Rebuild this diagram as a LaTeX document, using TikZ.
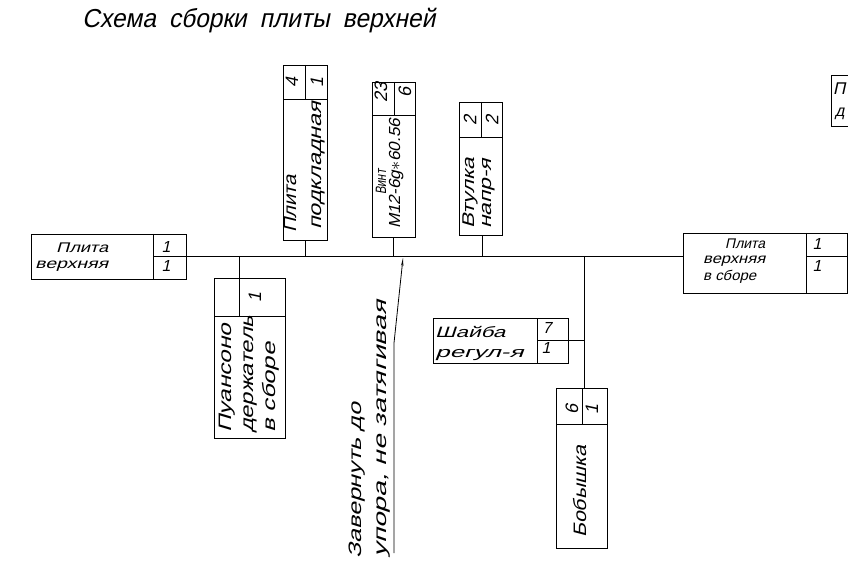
\documentclass[tikz,border=0pt]{standalone}
\usepackage{fontspec}
\usepackage{graphicx}
\newfontfamily\gost[FakeSlant=0.22]{Liberation Sans}
\usetikzlibrary{arrows.meta,calc}
\newcommand\fw[2]{\resizebox{#1pt}{\height}{#2}}
\tikzset{
  ln/.style={line width=0.8pt, draw=black},
  tb/.style={draw=black, line width=0.8pt, inner sep=0pt, shape=rectangle},
  tx/.style={inner sep=0pt, font={\fontsize{#1}{#1}\gost}},
  htx/.style={tx=#1, anchor=base west},
  num/.style={tx=#1, anchor=base},
  rtx/.style={tx=#1, rotate=90, anchor=base west},
  rnum/.style={tx=#1, rotate=90, anchor=center},
}
\begin{document}
\begin{tikzpicture}[x=1pt,y=-1pt]
\clip (0,0) rectangle (848,569);
\fill[white] (0,0) rectangle (848,569);

% title
\node[htx=26] (title) at (82,28) {\fw{353}{Схема\hspace{0.25em} сборки\hspace{0.25em} плиты\hspace{0.25em} верхней}};

% boxes
\node[tb, minimum width=155pt, minimum height=45pt] (lb) at (108.5,256.5) {};
\node[tb, minimum width=164pt, minimum height=60pt] (rb) at (765,263) {};
\node[tb, minimum width=44pt, minimum height=175pt] (pp) at (305,152.5) {};
\node[tb, minimum width=43pt, minimum height=155pt] (vn) at (393.5,159.5) {};
\node[tb, minimum width=43pt, minimum height=133pt] (vt) at (480.5,168.5) {};
\node[tb, minimum width=71pt, minimum height=160pt] (pu) at (249.5,358) {};
\node[tb, minimum width=135pt, minimum height=45pt] (sh) at (500.5,340.5) {};
\node[tb, minimum width=51pt, minimum height=160pt] (bo) at (581.5,468) {};
\node[tb, minimum width=40pt, minimum height=51pt] (pr) at (851,100.5) {};

% table dividers
\draw[ln] (153,234) -- (153,279);
\draw[ln] (153,256) -- (186,256);
\draw[ln] (806,233) -- (806,293);
\draw[ln] (806,256) -- (847,256);
\draw[ln] (283,99) -- (327,99);
\draw[ln] (305,65) -- (305,99);
\draw[ln] (372,115) -- (415,115);
\draw[ln] (394,82) -- (394,115);
\draw[ln] (459,137) -- (502,137);
\draw[ln] (481,102) -- (481,137);
\draw[ln] (214,316) -- (285,316);
\draw[ln] (239,278) -- (239,316);
\draw[ln] (537,318) -- (537,363);
\draw[ln] (537,340) -- (568,340);
\draw[ln] (556,424) -- (607,424);
\draw[ln] (582,388) -- (582,424);

% main line and stems
\coordinate (jpu) at (239,256);
\coordinate (jbo) at (584,256);
\coordinate (jvt) at (482,256);
\draw[ln] (lb.east) -- (lb.east -| rb.west);
\draw[ln] (pp.south) -- (pp.south |- lb.east);
\draw[ln] (vn.south) -- (vn.south |- lb.east);
\draw[ln] (jvt |- vt.south) -- (jvt);
\draw[ln] (jpu) -- (jpu |- pu.north);
\draw[ln] (jbo) -- (jbo |- bo.north);
\draw[ln] (sh.east) -- (sh.east -| jbo);

% annotation leader
\coordinate (a0) at (394,553);
\coordinate (a1) at (394,343);
\coordinate (a2) at (403,258);
\draw[ln, -{Stealth[length=8pt,width=2.4pt]}] (a0) -- (a1) -- (a2);

% left box texts
\node[htx=14] (lb1) at (56,253) {\fw{52}{Плита}};
\node[htx=14] (lb2) at (35,269) {\fw{73}{верхняя}};
\node[num=16] (lbn1) at (166,253) {1};
\node[num=16] (lbn2) at (166,272) {1};

% right box texts
\node[htx=14] (rb1) at (725,248) {\fw{40}{Плита}};
\node[htx=14] (rb2) at (703,264) {\fw{62}{верхняя}};
\node[htx=14] (rb3) at (703,280) {\fw{53}{в сборе}};
\node[num=16] (rbn1) at (817,250) {1};
\node[num=16] (rbn2) at (817,271) {1};

% shaiba
\node[htx=15] (sh1) at (435,337) {\fw{70}{Шайба}};
\node[htx=15] (sh2) at (435,357) {\fw{88}{регул-я}};
\node[num=16] (shn1) at (547,333) {7};
\node[num=16] (shn2) at (546,353) {1};

% plita podkladnaya
\node[rtx=18] (pp1) at (296,233) {\fw{58}{Плита}};
\node[rtx=18] (pp2) at (321,230) {\fw{128}{подкладная}};
\node[rnum=18] (ppn1) at (292,82) {4};
\node[rnum=18] (ppn2) at (317,82) {1};

% vint
\node[rtx=15] (vn1) at (386,195) {\fw{25}{Винт}};
\node[rtx=16] (vn2) at (400,229) {\fw{110}{M12-6g{\ensuremath{\ast}}60.56}};
\node[rnum=18] (vnn1) at (381,92) {23};
\node[rnum=18] (vnn2) at (405,92) {6};

% vtulka
\node[rtx=17] (vt1) at (474,229) {\fw{71}{Втулка}};
\node[rtx=17] (vt2) at (491,229) {\fw{70}{напр-я}};
\node[rnum=18] (vtn1) at (470,120) {2};
\node[rnum=18] (vtn2) at (492,120) {2};

% puansono
\node[rtx=18] (pu1) at (231,433) {\fw{109}{Пуансоно}};
\node[rtx=18] (pu2) at (253,433) {\fw{117}{держатель}};
\node[rtx=18] (pu3) at (275,433) {\fw{90}{в сборе}};
\node[rnum=18] (pun1) at (255,297) {1};

% bobyshka
\node[rtx=18] (bo1) at (586,538) {\fw{92}{Бобышка}};
\node[rnum=18] (bon1) at (572,409) {6};
\node[rnum=18] (bon2) at (592,409) {1};

% annotation
\node[rtx=18] (an1) at (361,559) {\fw{156}{Завернуть до}};
\node[rtx=18] (an2) at (386,558) {\fw{257}{упора, не затягивая}};

% partial box at right edge
\node[htx=17] (pr1) at (833,95) {П};
\node[htx=16] (pr2) at (835,117) {д};
\end{tikzpicture}
\end{document}
